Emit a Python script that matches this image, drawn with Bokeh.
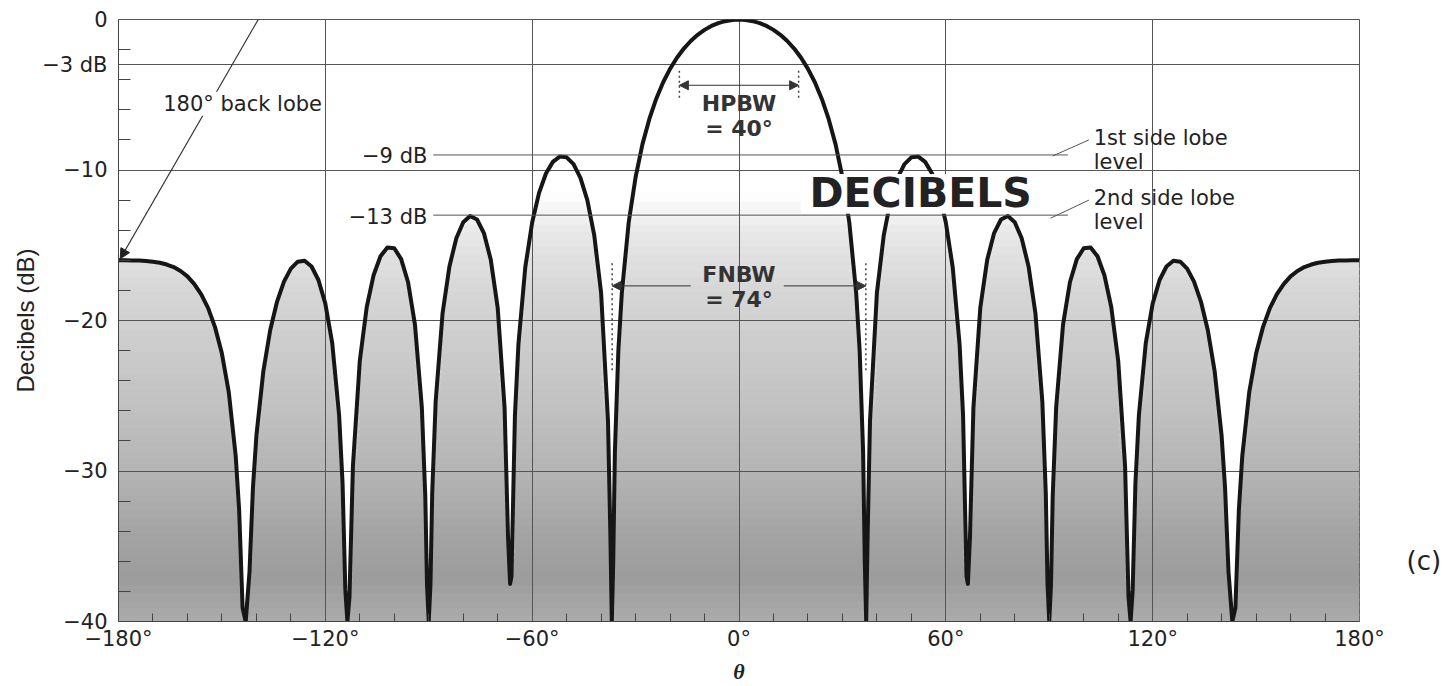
import numpy as np
from bokeh.plotting import figure
from bokeh.models import Range1d, FixedTicker, Label, Arrow, NormalHead, BoxAnnotation, LinearAxis
from bokeh.embed import file_html
from bokeh.resources import INLINE

# ---- data (angle in degrees, level in dB) ----
theta = [
    -180, -178, -176, -174, -172, -170, -168, -166, -164, -162, -160, -158, -156, -154, -152, -150,
    -148, -146, -145, -144, -143.1, -142, -141, -140, -138, -136, -134, -132, -130, -128, -126, -124,
    -122, -120, -118, -116, -115, -114.2, -113.6, -113, -112, -110, -108, -106, -104, -102, -100, -98,
    -96, -94, -92, -91, -90.5, -90, -89.5, -89, -88, -86, -84, -82, -80, -78, -76, -74, -72, -70,
    -68, -67, -66.4, -66, -65, -64, -62, -60, -58, -56, -54, -52, -50, -48, -46, -44, -42, -40,
    -38, -37.3, -36.9, -36.5, -36, -35, -34, -32, -30, -28, -26, -24, -22, -20, -18, -16, -14, -12,
    -10, -8, -6, -4, -2,
    0,
    2, 4, 6, 8, 10, 12, 14, 16, 18, 20, 22, 24, 26, 28, 30, 32, 34, 35, 36, 36.5, 36.9, 37.3, 38,
    40, 42, 44, 46, 48, 50, 52, 54, 56, 58, 60, 62, 64, 65, 66, 66.4, 67, 68, 70, 72, 74, 76, 78,
    80, 82, 84, 86, 88, 89, 89.5, 90, 90.5, 91, 92, 94, 96, 98, 100, 102, 104, 106, 108, 110, 112,
    113, 113.6, 114.2, 115, 116, 118, 120, 122, 124, 126, 128, 130, 132, 134, 136, 138, 140, 141,
    142, 143.1, 144, 145, 146, 148, 150, 152, 154, 156, 158, 160, 162, 164, 166, 168, 170, 172,
    174, 176, 178, 180,
]
db = [
    -16.0, -16.0, -16.01, -16.02, -16.04, -16.09, -16.16, -16.28, -16.45, -16.71, -17.07, -17.58,
    -18.26, -19.18, -20.44, -22.2, -24.78, -29.0, -32.6, -39.1, -40.0, -36.7, -31.1, -27.66, -23.4,
    -20.65, -18.74, -17.42, -16.55, -16.09, -16.03, -16.41, -17.31, -18.88, -21.5, -26.3, -30.8,
    -37.9, -40.0, -38.4, -29.7, -22.67, -19.12, -16.99, -15.73, -15.15, -15.2, -15.92, -17.46,
    -20.27, -25.8, -31.7, -37.6, -40.0, -37.5, -31.5, -25.41, -19.54, -16.41, -14.53, -13.47,
    -13.06, -13.29, -14.19, -15.97, -19.15, -25.8, -34.4, -37.5, -37.0, -26.3, -21.63, -16.47,
    -13.49, -11.52, -10.23, -9.46, -9.11, -9.16, -9.61, -10.52, -12.0, -14.32, -18.18, -26.7,
    -34.4, -40.0, -36.2, -28.7, -22.0, -18.19, -13.49, -10.48, -8.28, -6.61, -5.26, -4.17, -3.28,
    -2.54, -1.93, -1.43, -1.02, -0.69, -0.43, -0.24, -0.11, -0.03,
    0.0,
    -0.03, -0.11, -0.24, -0.43, -0.69, -1.02, -1.43, -1.93, -2.54, -3.28, -4.17, -5.26, -6.61,
    -8.28, -10.48, -13.49, -18.19, -22.0, -28.7, -36.2, -40.0, -34.4, -26.7, -18.18, -14.32, -12.0,
    -10.52, -9.61, -9.16, -9.11, -9.46, -10.23, -11.52, -13.49, -16.47, -21.63, -26.3, -37.0,
    -37.5, -34.4, -25.8, -19.15, -15.97, -14.19, -13.29, -13.06, -13.47, -14.53, -16.41, -19.54,
    -25.41, -31.5, -37.5, -40.0, -37.6, -31.7, -25.8, -20.27, -17.46, -15.92, -15.2, -15.15,
    -15.73, -16.99, -19.12, -22.67, -29.7, -38.4, -40.0, -37.9, -30.8, -26.3, -21.5, -18.88,
    -17.31, -16.41, -16.03, -16.09, -16.55, -17.42, -18.74, -20.65, -23.4, -27.66, -31.1, -36.7,
    -40.0, -39.1, -32.6, -29.0, -24.78, -22.2, -20.44, -19.18, -18.26, -17.58, -17.07, -16.71,
    -16.45, -16.28, -16.16, -16.09, -16.04, -16.02, -16.01, -16.0, -16.0,
]

x_ticks = [-180, -120, -60, 0, 60, 120, 180]
x_tick_labels = ["−180°", "−120°", "−60°", "0°", "60°", "120°", "180°"]
y_ticks = [0, -3, -10, -20, -30, -40]
y_tick_labels = ["0", "−3 dB", "−10", "−20", "−30", "−40"]

side_lobe_levels = [-9, -13]
side_lobe_texts = ["−9 dB", "−13 dB"]
hpbw = 40
fnbw = 74

FONT = "DejaVu Sans"
TXT = "#222222"

p = figure(width=1445, height=686, x_range=Range1d(-180, 180), y_range=Range1d(-40, 0),
           output_backend="svg", toolbar_location=None,
           min_border_left=118, min_border_right=86, min_border_top=19, min_border_bottom=63,
           background_fill_color="white", border_fill_color="white",
           outline_line_color="#555555", outline_line_width=1)

# ---- axes ----
x_minor = [v for v in range(-170, 180, 10) if v % 60 != 0]
y_minor = [v for v in range(-38, 0, 2) if v % 10 != 0]
p.xaxis.ticker = FixedTicker(ticks=x_ticks, minor_ticks=x_minor)
p.yaxis.ticker = FixedTicker(ticks=y_ticks, minor_ticks=y_minor)
p.xaxis.major_label_overrides = dict(zip(x_ticks, x_tick_labels))
p.yaxis.major_label_overrides = dict(zip(y_ticks, y_tick_labels))
for ax in (p.xaxis, p.yaxis):
    ax.major_tick_in = 0
    ax.major_tick_out = 0
    ax.minor_tick_out = 0
    ax.minor_tick_line_color = "#444444"
    ax.axis_line_color = "#444444"
    ax.major_label_text_font = FONT
    ax.major_label_text_font_size = "21px"
    ax.major_label_text_color = TXT
p.xaxis.minor_tick_in = 8
p.yaxis.minor_tick_in = 12
p.xaxis.major_label_standoff = 5
p.yaxis.major_label_standoff = 11
p.yaxis.axis_label = "Decibels (dB)"
p.yaxis.axis_label_text_font = "Liberation Sans"
p.yaxis.axis_label_text_font_size = "24px"
p.yaxis.axis_label_text_font_style = "normal"
p.yaxis.axis_label_text_color = TXT
p.yaxis.axis_label_standoff = 0
p.xaxis.axis_label = "θ"
p.xaxis.axis_label_text_font = "Liberation Serif"
p.xaxis.axis_label_text_font_size = "22px"
p.xaxis.axis_label_text_font_style = "bold italic"
p.xaxis.axis_label_text_color = TXT
p.xaxis.axis_label_standoff = 5

# panel tag "(c)" as a label-only axis on the right
tag_axis = LinearAxis(ticker=FixedTicker(ticks=[-36]), major_label_overrides={-36: "(c)"},
                      axis_line_color=None, major_tick_line_color=None, minor_tick_line_color=None,
                      major_label_standoff=41, major_label_text_font=FONT,
                      major_label_text_font_size="26px", major_label_text_font_style="normal",
                      major_label_text_color=TXT)
p.add_layout(tag_axis, "right")

p.xgrid.ticker = FixedTicker(ticks=[-120, -60, 0, 60, 120])
for g in (p.xgrid, p.ygrid):
    g.grid_line_color = "#555555"
    g.grid_line_width = 1

# ---- gray shading under the curve (banded gradient) ----
db_arr = np.array(db, dtype=float)
shade_pos = [-40, -37, -34, -30, -26, -22, -18, -14, -11.5]
shade_val = [172, 156, 164, 180, 192, 203, 214, 232, 254]
step = 0.5
lo = -40.0
while lo < -11.5:
    hi = lo + step
    y2 = np.minimum(db_arr, hi)
    y1 = np.minimum(db_arr, lo - 0.12)
    g = int(round(np.interp(lo + step / 2, shade_pos, shade_val)))
    p.varea(x=theta, y1=y1, y2=y2, fill_color=(g, g, g), level="image")
    lo = hi

# ---- pattern curve ----
p.line(theta, db, line_width=4, line_color="#161616", line_join="round")

# ---- side lobe reference lines and leaders ----
p.segment(x0=[-88.7] * 2, y0=side_lobe_levels, x1=[95.4] * 2, y1=side_lobe_levels,
          line_color="#555555", line_width=1)
p.segment(x0=[91.0, 90.4], y0=[-9.07, -13.2], x1=[101.5, 101.5], y1=[-8.0, -12.0],
          line_color="#555555", line_width=1)
for lvl, txt in zip(side_lobe_levels, side_lobe_texts):
    p.add_layout(Label(x=-90.4, y=lvl - 0.1, text=txt, text_align="right", text_baseline="middle",
                       text_font=FONT, text_font_size="21px", text_color=TXT))
for yy, txt in [(-7.9, "1st side lobe"), (-9.5, "level"), (-11.85, "2nd side lobe"), (-13.45, "level")]:
    p.add_layout(Label(x=102.9, y=yy, text=txt, text_align="left", text_baseline="middle",
                       text_font=FONT, text_font_size="21px", text_color=TXT))

# ---- HPBW dimension ----
half_h = 17.3
p.segment(x0=[-half_h, half_h], y0=[-3.4, -3.4], x1=[-half_h, half_h], y1=[-5.2, -5.2],
          line_color="#444444", line_width=1.5, line_dash="2 3")
p.add_layout(Arrow(start=NormalHead(size=9, fill_color="#333333", line_color="#333333"),
                   end=NormalHead(size=9, fill_color="#333333", line_color="#333333"),
                   x_start=-half_h, y_start=-4.37, x_end=half_h, y_end=-4.37,
                   line_color="#333333", line_width=1))
p.add_layout(Label(x=0, y=-5.56, text="HPBW", text_align="center", text_baseline="middle",
                   text_font=FONT, text_font_size="22px", text_font_style="bold", text_color="#333333"))
p.add_layout(Label(x=0, y=-7.22, text="= %d°" % hpbw, text_align="center", text_baseline="middle",
                   text_font=FONT, text_font_size="22px", text_font_style="bold", text_color="#333333"))

# ---- FNBW dimension ----
half_f = 36.8
p.segment(x0=[-half_f, half_f], y0=[-16.2, -16.2], x1=[-half_f, half_f], y1=[-23.4, -23.4],
          line_color="#444444", line_width=1.5, line_dash="2 3")
for xs, xe in [(-14, -half_f), (13, half_f)]:
    p.add_layout(Arrow(end=NormalHead(size=9, fill_color="#333333", line_color="#333333"),
                       x_start=xs, y_start=-17.7, x_end=xe, y_end=-17.7,
                       line_color="#333333", line_width=1))
p.add_layout(Label(x=0, y=-16.95, text="FNBW", text_align="center", text_baseline="middle",
                   text_font=FONT, text_font_size="22px", text_font_style="bold", text_color="#333333"))
p.add_layout(Label(x=0, y=-18.6, text="= %d°" % fnbw, text_align="center", text_baseline="middle",
                   text_font=FONT, text_font_size="22px", text_font_style="bold", text_color="#333333"))

# ---- DECIBELS label on white knock-out ----
p.add_layout(BoxAnnotation(left=17.9, right=89, top=-10.26, bottom=-12.9,
                           fill_color="white", fill_alpha=1, line_color=None))
p.add_layout(Label(x=52.7, y=-11.55, text="DECIBELS", text_align="center", text_baseline="middle",
                   text_font=FONT, text_font_size="41px", text_font_style="bold", text_color=TXT))

# ---- back lobe pointer ----
p.add_layout(Arrow(end=NormalHead(size=10, fill_color="#222222", line_color="#222222"),
                   x_start=-137.7, y_start=0.7, x_end=-179.5, y_end=-15.9,
                   line_color="#333333", line_width=1.2))
p.add_layout(Label(x=-144, y=-5.6, text="180° back lobe", text_align="center", text_baseline="middle",
                   text_font=FONT, text_font_size="21px", text_color=TXT,
                   background_fill_color="white", background_fill_alpha=1))

open("out.html", "w", encoding="utf-8").write(file_html(p, INLINE))
